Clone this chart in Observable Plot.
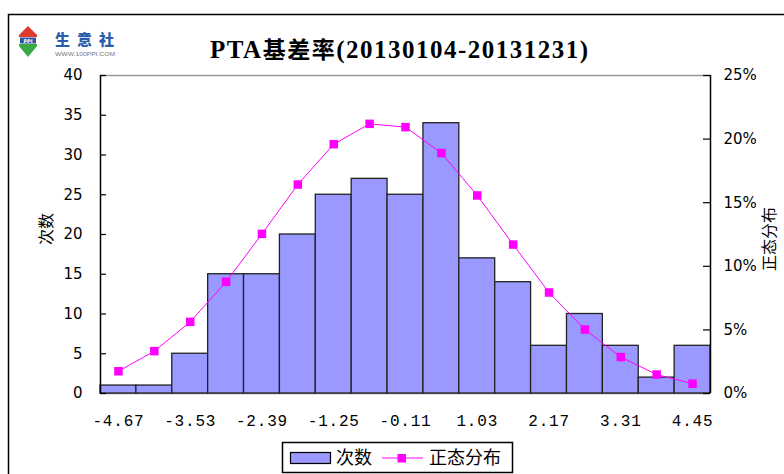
<!DOCTYPE html>
<html>
<head>
<meta charset="utf-8">
<script src="https://cdn.jsdelivr.net/npm/d3@7"></script>
<script src="https://cdn.jsdelivr.net/npm/@observablehq/plot@0.6"></script>
<style>
  html, body { margin: 0; padding: 0; background: #fff; overflow: hidden; }
  #wrap { position: relative; width: 784px; height: 474px; }
  #chart, #overlay { position: absolute; left: 0; top: 0; }
  #overlay { pointer-events: none; }
</style>
</head>
<body>
<div id="wrap">
  <div id="chart"></div>
  <svg id="overlay" width="784" height="474" xmlns="http://www.w3.org/2000/svg">
    <!-- outer frame -->
    <path d="M8.5,480 V14.5 H790" fill="none" stroke="#000" stroke-width="1.5"/>
    <!-- logo -->
    <g>
      <polygon points="28,26 19,35 19,37 37,37 37,35" fill="#e03a2f"/>
      <rect x="20" y="37.5" width="16" height="6" fill="#2a55a8"/>
      <text x="28" y="42.5" font-family="DejaVu Sans" font-size="5" font-weight="bold" fill="#fff" text-anchor="middle">PPI</text>
      <polygon points="19,44 37,44 37,46 28,57 19,46" fill="#3aa845"/>
      <text x="55" y="45" font-family="'Noto Sans CJK SC'" font-size="15" font-weight="900" fill="#2a5caa" letter-spacing="7">生意社</text>
      <text x="55" y="56" font-family="'Liberation Sans'" font-size="5.5" fill="#777" textLength="60" lengthAdjust="spacingAndGlyphs">WWW.100PPI.COM</text>
    </g>
    <!-- title -->
    <text x="210" y="58" font-family="'Liberation Serif', 'Noto Sans CJK SC'" font-size="25" font-weight="bold" fill="#000" textLength="378" lengthAdjust="spacing">PTA<tspan font-family="'Noto Sans CJK SC'" font-size="23" font-weight="bold">基差率</tspan>(20130104-20131231)</text>
    <!-- axis titles -->
    <text transform="translate(52,229) rotate(-90)" text-anchor="middle" font-family="'Noto Sans CJK SC'" font-size="16" fill="#000">次数</text>
    <text transform="translate(775,239) rotate(-90)" text-anchor="middle" font-family="'Noto Sans CJK SC'" font-size="16" fill="#000">正态分布</text>
    <!-- legend -->
    <rect x="282.5" y="442.5" width="230" height="30" fill="#fff" stroke="#000" stroke-width="1.5"/>
    <rect x="290.5" y="452.5" width="40" height="11" fill="#9999FF" stroke="#000" stroke-width="1.2"/>
    <text x="336" y="464" font-family="'Noto Sans CJK SC'" font-size="18" fill="#000">次数</text>
    <line x1="382" y1="458" x2="423" y2="458" stroke="#FF00FF" stroke-width="1.2"/>
    <rect x="397.5" y="454" width="8.5" height="8.5" fill="#FF00FF"/>
    <text x="429" y="464" font-family="'Noto Sans CJK SC'" font-size="18" fill="#000">正态分布</text>
  </svg>
</div>
<script>
// ---- data ----
const binCenters = [-4.67, -4.10, -3.53, -2.96, -2.39, -1.82, -1.25, -0.68, -0.11, 0.46, 1.03, 1.60, 2.17, 2.74, 3.31, 3.88, 4.45];
const counts     = [1, 1, 5, 15, 15, 20, 25, 27, 25, 34, 17, 14, 6, 10, 6, 2, 6];
const normalPct  = [1.75, 3.33, 5.63, 8.78, 12.55, 16.43, 19.6, 21.2, 20.94, 18.9, 15.57, 11.71, 7.94, 5.03, 2.86, 1.49, 0.77];
const xTickValues = [-4.67, -3.53, -2.39, -1.25, -0.11, 1.03, 2.17, 3.31, 4.45];
const xTickLabels = ["-4.67", "-3.53", "-2.39", "-1.25", "-0.11", "1.03", "2.17", "3.31", "4.45"];
const countTicks = [0, 5, 10, 15, 20, 25, 30, 35, 40];
const pctTicks   = [0, 5, 10, 15, 20, 25];

// ---- derived ----
const countMax = 40, pctMax = 25, k = countMax / pctMax;
const binWidth = binCenters[1] - binCenters[0];
const rows = binCenters.map((c, i) => ({
  center: c, x1: c - binWidth / 2, x2: c + binWidth / 2,
  count: counts[i], pct: normalPct[i], pctScaled: normalPct[i] * k
}));
const xDomain = [binCenters[0] - binWidth / 2, binCenters[binCenters.length - 1] + binWidth / 2];
const labelOf = new Map(xTickValues.map((v, i) => [v, xTickLabels[i]]));

const W = 784, H = 474, mL = 100, mR = 74, mT = 75, mB = 81;
const innerW = W - mL - mR;

const chart = Plot.plot({
  width: W, height: H,
  marginLeft: mL, marginRight: mR, marginTop: mT, marginBottom: mB,
  style: { background: "transparent", fontFamily: "'DejaVu Sans'", fontSize: "15px", color: "#000" },
  x: { domain: xDomain, axis: null },
  y: { domain: [0, countMax], axis: null },
  marks: [
    Plot.ruleY([countMax], { stroke: "#999", strokeWidth: 1.5 }),
    Plot.ruleY([0], { stroke: "#888", strokeWidth: 1.5 }),
    Plot.rectY(rows, { x1: "x1", x2: "x2", y: "count", fill: "#9999FF", stroke: "#222", strokeWidth: 1.3 }),
    Plot.line(rows, { x: "center", y: "pctScaled", stroke: "#FF00FF", strokeWidth: 1 }),
    Plot.dot(rows, { x: "center", y: "pctScaled", symbol: "square", r: 4.8, fill: "#FF00FF" }),
    Plot.ruleX(xDomain, { stroke: "#000", strokeWidth: 1.5 }),
    Plot.tickY(countTicks, { y: d => d, insetRight: innerW - 6, stroke: "#000", strokeWidth: 1.2 }),
    Plot.tickY(pctTicks, { y: d => d * k, insetLeft: innerW - 7, stroke: "#000", strokeWidth: 1.2 }),
    Plot.axisY({ anchor: "left", ticks: countTicks, tickSize: 0, tickPadding: 18, fontSize: 15, fill: "#000" }),
    Plot.axisY(pctTicks.map(p => p * k), { anchor: "right", tickSize: 0, tickPadding: 13, fontSize: 15, fill: "#000", tickFormat: d => Math.round(d / k) + "%" }),
    Plot.axisX(xTickValues, { anchor: "bottom", tickSize: 0, tickPadding: 21, fontSize: 16, fill: "#000", tickFormat: d => labelOf.get(d) })
  ]
});
// monospaced, slightly spaced x tick labels, as in the reference
const labelSet = new Set(xTickLabels);
d3.select(chart).selectAll("text").each(function () {
  if (labelSet.has(this.textContent)) {
    this.style.fontFamily = "'Liberation Mono', monospace";
    this.style.fontSize = "16px";
    this.style.letterSpacing = "0.8px";
  }
});
document.getElementById("chart").appendChild(chart);
</script>
</body>
</html>
